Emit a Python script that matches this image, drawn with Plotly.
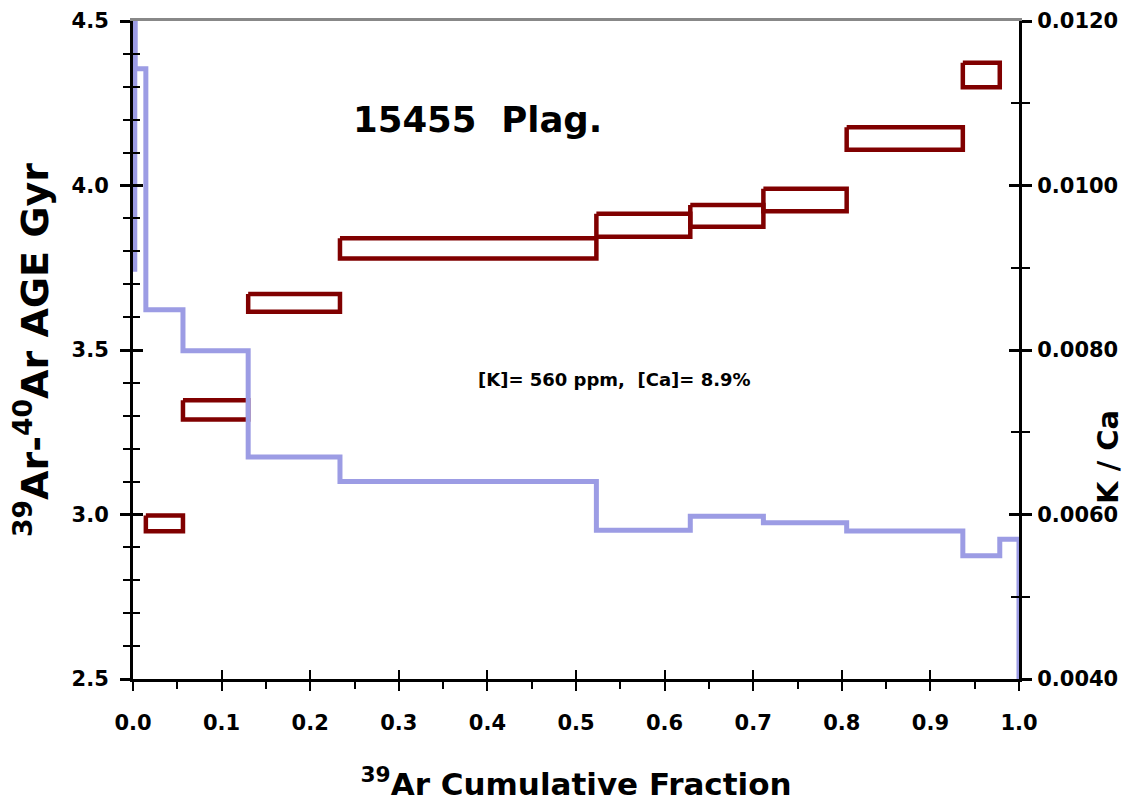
import plotly.graph_objects as go

# ---------------- data ----------------
# K/Ca step spectrum (right axis): step edges in 39Ar cumulative fraction and K/Ca values
kca_edges = [0.002, 0.0025, 0.0145, 0.0564, 0.1300, 0.2336, 0.5230, 0.6290, 0.7115, 0.8055, 0.9366, 0.9783, 1.0]
kca_values = [0.0130, 0.01142, 0.00849, 0.00799, 0.00670, 0.00640, 0.00581, 0.00598, 0.00590, 0.00580, 0.00550, 0.00570]
kca_start = 0.00895
kca_end = 0.0035

# Age boxes (left axis): fraction range, age and 1-sigma error (Gyr)
box_frac_lo = [0.0145, 0.0564, 0.1300, 0.2336, 0.5230, 0.6290, 0.7115, 0.8055, 0.9366]
box_frac_hi = [0.0564, 0.1300, 0.2336, 0.5230, 0.6290, 0.7115, 0.8055, 0.9366, 0.9783]
box_age = [2.973, 3.318, 3.643, 3.809, 3.879, 3.908, 3.956, 4.143, 4.336]
box_err = [0.024, 0.029, 0.027, 0.031, 0.035, 0.033, 0.034, 0.034, 0.037]

x_ticks = [0.0, 0.1, 0.2, 0.3, 0.4, 0.5, 0.6, 0.7, 0.8, 0.9, 1.0]
age_ticks = [2.5, 3.0, 3.5, 4.0, 4.5]
kca_ticks = [0.004, 0.006, 0.008, 0.010, 0.012]

FONT = "DejaVu Sans"
BLUE = "rgb(156,156,228)"
RED = "#800000"

fig = go.Figure()

# age boxes as closed outlines
bx, by = [], []
for lo, hi, a, e in zip(box_frac_lo, box_frac_hi, box_age, box_err):
    bx += [lo, hi, hi, lo, lo, None]
    by += [a + e, a + e, a - e, a - e, a + e, None]
fig.add_trace(go.Scatter(x=bx, y=by, mode="lines", xaxis="x", yaxis="y",
                         line=dict(color=RED, width=4.5), hoverinfo="skip",
                         showlegend=False))

# K/Ca step line
sx = [kca_edges[0]] + kca_edges
sy = [kca_start] + kca_values + [kca_end]
fig.add_trace(go.Scatter(x=sx, y=sy, mode="lines", line_shape="hv", xaxis="x", yaxis="y2",
                         line=dict(color=BLUE, width=5), hoverinfo="skip", showlegend=False))

# empty traces so that the decoration axes (inner tick halves, grey top line) are drawn
for xa, ya in [("x3", "y"), ("x", "y3"), ("x", "y4"), ("x4", "y")]:
    fig.add_trace(go.Scatter(x=[None], y=[None], xaxis=xa, yaxis=ya, mode="lines",
                             hoverinfo="skip", showlegend=False))

tickfont = dict(family=FONT, size=21, color="black", weight="bold")

fig.update_layout(
    width=1126, height=804,
    margin=dict(l=133, r=107, t=21, b=125),
    paper_bgcolor="white", plot_bgcolor="white",
    showlegend=False,
    xaxis=dict(range=[0, 1], tickvals=x_ticks, tickformat=".1f", showgrid=False, zeroline=False,
               showline=True, linecolor="black", linewidth=3, automargin=False,
               ticks="outside", ticklen=9, tickwidth=2, tickcolor="black",
               minor=dict(ticks="outside", dtick=0.05, tick0=0, ticklen=7, tickwidth=1.5, tickcolor="black"),
               tickfont=tickfont, ticklabelstandoff=14,
               title=dict(text="<sup>39</sup>Ar Cumulative Fraction",
                          font=dict(family=FONT, size=31, color="black", weight="bold"), standoff=40)),
    yaxis=dict(range=[2.5, 4.5], tickvals=age_ticks, tickformat=".1f", showgrid=False, zeroline=False,
               showline=True, linecolor="black", linewidth=3, automargin=False,
               ticks="outside", ticklen=10, tickwidth=2.5, tickcolor="black",
               minor=dict(ticks="outside", dtick=0.1, tick0=2.5, ticklen=7, tickwidth=2, tickcolor="black"),
               tickfont=tickfont, ticklabelstandoff=7,
               title=dict(text="<sup>39</sup>Ar-<sup>40</sup>Ar AGE Gyr",
                          font=dict(family=FONT, size=38, color="black", weight="bold"), standoff=12)),
    yaxis2=dict(range=[0.004, 0.012], overlaying="y", side="right", anchor="x", automargin=False,
                tickvals=kca_ticks, tickformat=".4f", showgrid=False, zeroline=False,
                showline=True, linecolor="black", linewidth=3,
                ticks="outside", ticklen=10, tickwidth=2.5, tickcolor="black",
                minor=dict(ticks="outside", dtick=0.001, tick0=0.004, ticklen=8, tickwidth=2, tickcolor="black"),
                tickfont=tickfont, ticklabelstandoff=1),
    # inner halves of the crossing ticks
    xaxis3=dict(range=[0, 1], overlaying="x", anchor="y", side="bottom", tickvals=x_ticks, automargin=False,
                showticklabels=False, showgrid=False, zeroline=False, showline=False,
                ticks="inside", ticklen=9, tickwidth=2, tickcolor="black"),
    yaxis3=dict(range=[2.5, 4.5], overlaying="y", anchor="x", side="left", tickvals=age_ticks, automargin=False,
                showticklabels=False, showgrid=False, zeroline=False, showline=False,
                ticks="inside", ticklen=10, tickwidth=2.5, tickcolor="black",
                minor=dict(ticks="inside", dtick=0.1, tick0=2.5, ticklen=7, tickwidth=2, tickcolor="black")),
    yaxis4=dict(range=[0.004, 0.012], overlaying="y", anchor="x", side="right", tickvals=kca_ticks, automargin=False,
                showticklabels=False, showgrid=False, zeroline=False, showline=False,
                ticks="inside", ticklen=10, tickwidth=2.5, tickcolor="black",
                minor=dict(ticks="inside", dtick=0.001, tick0=0.004, ticklen=8, tickwidth=2, tickcolor="black")),
    # grey top frame line
    xaxis4=dict(range=[0, 1], overlaying="x", anchor="y", side="top", showticklabels=False, automargin=False,
                showgrid=False, zeroline=False, showline=True, linecolor="#888888", linewidth=2.5,
                ticks=""),
)

fig.add_annotation(x=0.389, y=4.20, xref="x", yref="y", text="15455\u00a0 Plag.", showarrow=False,
                   font=dict(family=FONT, size=35.5, color="black", weight="bold"))
fig.add_annotation(x=0.543, y=3.41, xref="x", yref="y", text="[K]= 560 ppm,\u00a0 [Ca]= 8.9%", showarrow=False,
                   font=dict(family=FONT, size=18, color="black", weight="bold"))
# right-axis title (sits below the axis centre in the original)
fig.add_annotation(x=1.0, y=0.00670, xref="paper", yref="y2", xshift=89, xanchor="center", yanchor="middle",
                   text="K / Ca", showarrow=False, textangle=-90,
                   font=dict(family=FONT, size=29, color="black", weight="bold"))

fig.write_html("out.html")
